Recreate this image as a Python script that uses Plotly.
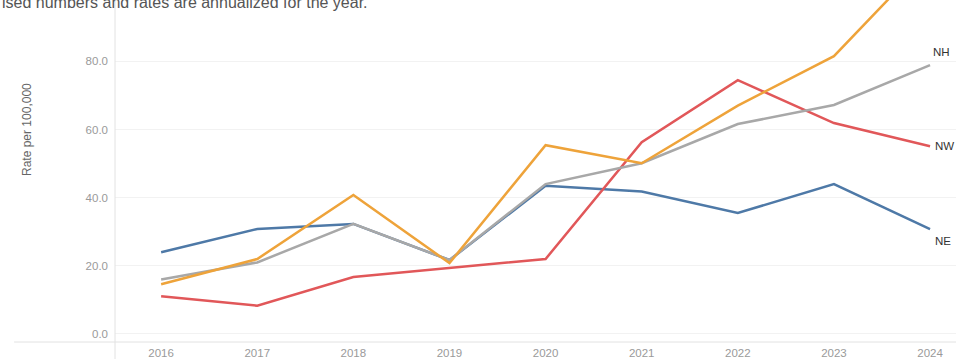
import plotly.graph_objects as go

years = [2016, 2017, 2018, 2019, 2020, 2021, 2022, 2023, 2024]
ne = [24.0, 30.8, 32.3, 21.7, 43.5, 41.8, 35.5, 44.0, 30.8]
nh = [16.0, 21.0, 32.3, 21.7, 44.0, 50.1, 61.6, 67.2, 78.9]
nw = [11.1, 8.3, 16.7, 19.4, 22.0, 56.3, 74.5, 61.9, 55.1]
orange = [14.6, 22.0, 40.8, 20.8, 55.4, 50.1, 67.0, 81.5, 111.0]
y_ticks = [0, 20, 40, 60, 80]
y_tick_text = ["0.0", "20.0", "40.0", "60.0", "80.0"]

fig = go.Figure()
series = [
    ("NE", ne, "#4e79a7"),
    ("NW", nw, "#e15759"),
    ("NH", nh, "#a8a8a8"),
    ("", orange, "#eea33a"),
]
for name, vals, col in series:
    fig.add_trace(go.Scatter(x=years, y=vals, mode="lines", name=name,
                             line=dict(color=col, width=2.5), showlegend=False))

fnt = "Liberation Sans, Arial, sans-serif"
fig.update_layout(
    width=956, height=359,
    margin=dict(l=115, r=0, t=0, b=17),
    paper_bgcolor="white", plot_bgcolor="white",
    xaxis=dict(range=[2015.52, 2024.27], tickvals=years, ticktext=[str(y) for y in years],
               showgrid=False, zeroline=False, showline=False, automargin=False,
               ticklabelstandoff=2,
               tickfont=dict(family=fnt, size=11.5, color="#9a9a9a"), ticks=""),
    yaxis=dict(range=[-2.35, 98], tickvals=y_ticks, ticktext=y_tick_text,
               showgrid=True, gridcolor="#f2f2f2", gridwidth=1, zeroline=False, showline=False,
               automargin=False, ticklabelstandoff=6,
               tickfont=dict(family=fnt, size=11.5, color="#9a9a9a"), ticks=""),
)

# Y axis title
fig.add_annotation(xref="paper", yref="paper", x=(27 - 115) / 841, y=(342 - 130) / 342,
                   text="Rate per 100,000", textangle=-90, showarrow=False,
                   xanchor="center", yanchor="middle",
                   font=dict(family=fnt, size=12, color="#666666"))

# Tableau-like divider lines
fig.add_shape(type="line", xref="paper", yref="paper", x0=0, x1=0, y0=-0.06, y1=1,
              line=dict(color="#e2e2e2", width=1))
fig.add_shape(type="line", xref="paper", yref="paper", x0=-0.12, x1=1, y0=0, y1=0,
              line=dict(color="#e2e2e2", width=1))

# End labels
lab_font = dict(family=fnt, size=11.5, color="#333333")
fig.add_annotation(x=years[-1], y=nh[-1], text="NH", showarrow=False, xanchor="left",
                   xshift=1, yshift=13, font=lab_font)
fig.add_annotation(x=years[-1], y=nw[-1], text="NW", showarrow=False, xanchor="left",
                   xshift=3, yshift=0, font=lab_font)
fig.add_annotation(x=years[-1], y=ne[-1], text="NE", showarrow=False, xanchor="left",
                   xshift=3, yshift=-12, font=lab_font)

# Cropped header text
fig.add_annotation(xref="paper", yref="paper", x=-0.137, y=1, yshift=-2, xanchor="left",
                   yanchor="middle", text="ised numbers and rates are annualized for the year.",
                   showarrow=False, font=dict(family=fnt, size=16, color="#555555"))

fig.write_html("out.html", config={"displayModeBar": False},
               post_script="document.body.style.margin='0px';document.body.style.overflow='hidden';")
